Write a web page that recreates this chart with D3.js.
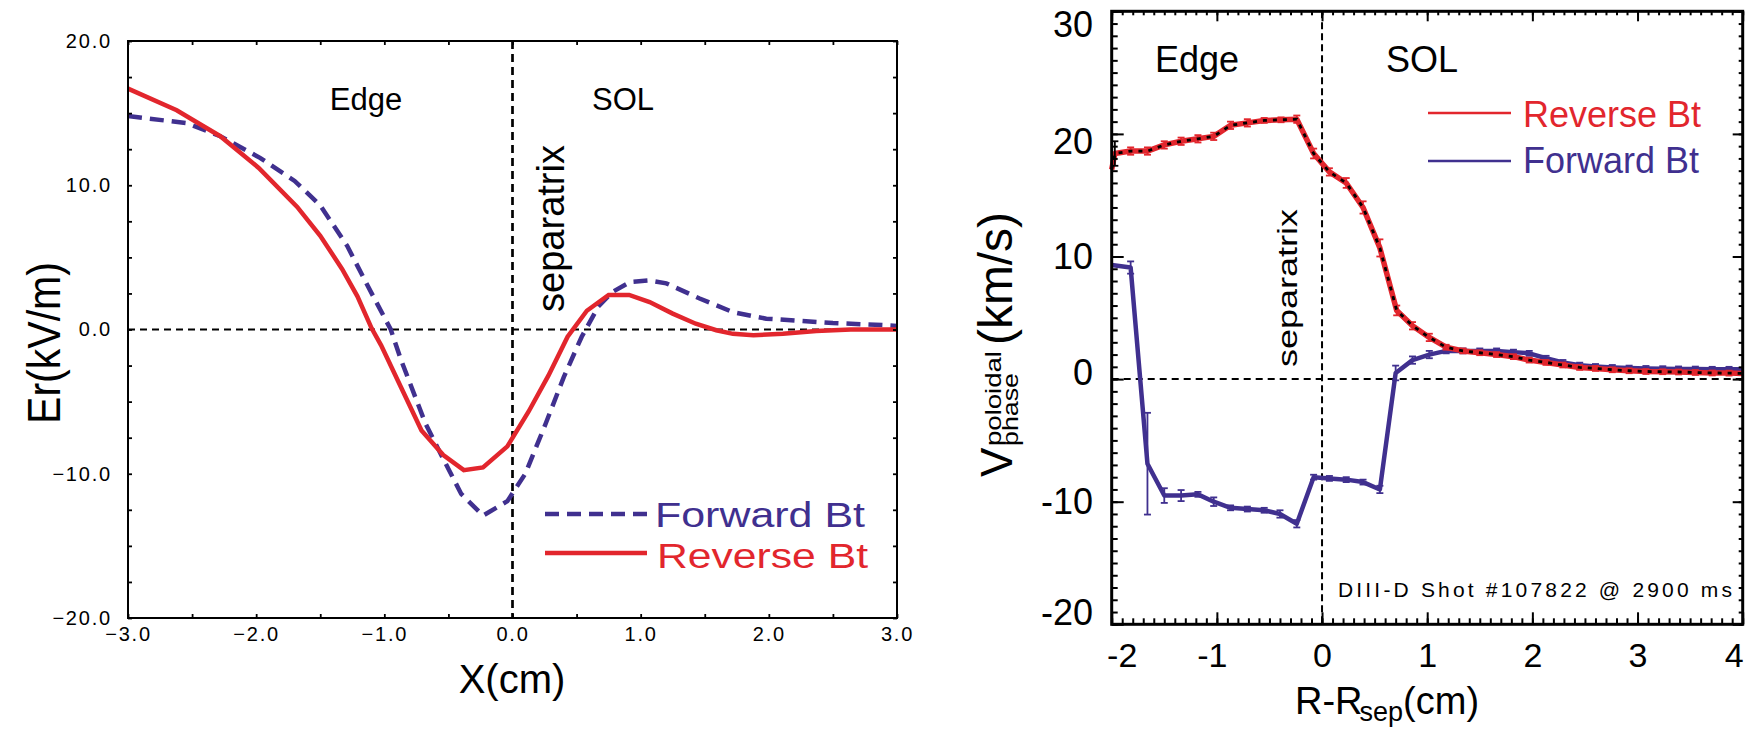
<!DOCTYPE html>
<html>
<head>
<meta charset="utf-8">
<script src="https://cdn.jsdelivr.net/npm/d3@7"></script>
<style>
body { margin:0; background:#fff; }
svg text { font-family: "Liberation Sans", Arial, sans-serif; fill:#000; }
</style>
</head>
<body>
<div id="chart"></div>
<script>

// ---- left panel : Er profile ----
var erFwdX = [-3.0,-2.54,-2.28,-1.97,-1.70,-1.50,-1.29,-1.14,-0.95,-0.87,-0.68,-0.55,-0.40,-0.23,-0.04,0.10,0.26,0.40,0.54,0.67,0.78,0.92,1.07,1.20,1.46,1.72,1.98,2.24,2.50,2.90,3.0];
var erFwd  = [14.8,14.3,13.4,11.9,10.3,8.6,5.8,3.2,0.0,-2.1,-6.5,-8.8,-11.4,-12.9,-11.9,-10.0,-6.5,-3.3,-0.5,1.6,2.6,3.3,3.4,3.2,2.15,1.2,0.75,0.6,0.45,0.3,0.25];
var erRevX = [-3.0,-2.62,-2.47,-2.28,-1.98,-1.68,-1.50,-1.33,-1.21,-1.10,-1.025,-0.87,-0.71,-0.54,-0.38,-0.23,-0.04,0.125,0.28,0.43,0.58,0.75,0.91,1.07,1.25,1.43,1.59,1.72,1.88,2.11,2.37,2.64,3.0];
var erRev  = [16.7,15.2,14.4,13.4,11.2,8.5,6.5,4.2,2.3,0.1,-1.1,-4.0,-7.0,-8.7,-9.75,-9.56,-8.1,-5.7,-3.2,-0.5,1.3,2.4,2.4,1.9,1.1,0.4,-0.05,-0.3,-0.4,-0.3,-0.1,0.0,0.0];
var erXTicks = [-3,-2,-1,0,1,2,3];
var erYTicks = [-20,-10,0,10,20];

// ---- right panel : poloidal phase velocity ----
var vRevX = [-2.0,-1.97,-1.82,-1.66,-1.50,-1.34,-1.18,-1.03,-0.87,-0.71,-0.55,-0.39,-0.24,-0.08,0.07,0.23,0.39,0.55,0.71,0.86,1.02,1.18,1.34,1.50,1.66,1.82,1.97,2.13,2.29,2.45,2.60,2.76,2.92,3.08,3.24,3.39,3.55,3.71,3.87,4.0];
var vRev    = [17.1,18.4,18.6,18.6,19.1,19.4,19.6,19.8,20.7,20.9,21.1,21.15,21.2,18.4,16.9,16.0,14.0,10.7,5.6,4.35,3.4,2.6,2.3,2.15,2.0,1.83,1.55,1.36,1.15,0.95,0.87,0.76,0.68,0.62,0.6,0.58,0.54,0.5,0.49,0.46];
var vRevErr = [0,1.0,0.3,0.3,0.3,0.3,0.3,0.3,0.3,0.3,0.2,0.2,0.3,0.4,0.3,0.4,0.5,0.7,0.4,0.3,0.3,0.2,0.2,0.2,0.2,0.2,0.2,0.2,0.2,0.2,0.2,0.2,0.2,0.2,0.2,0.2,0.2,0.2,0.2,0];
var vFwdX = [-2.0,-1.82,-1.66,-1.50,-1.34,-1.18,-1.03,-0.87,-0.71,-0.55,-0.40,-0.24,-0.08,0.07,0.23,0.39,0.55,0.70,0.86,1.02,1.18,1.34,1.50,1.66,1.82,1.97,2.13,2.29,2.45,2.60,2.76,2.92,3.08,3.24,3.39,3.55,3.71,3.87,4.0];
var vFwd    = [9.3,9.1,-6.9,-9.5,-9.5,-9.4,-10.0,-10.5,-10.6,-10.7,-11.0,-11.8,-8.0,-8.1,-8.2,-8.4,-9.0,0.5,1.55,2.0,2.3,2.3,2.3,2.3,2.2,2.1,1.7,1.36,1.14,1.03,0.95,0.9,0.87,0.85,0.83,0.82,0.8,0.8,0.8];
var vFwdErr = [0,0.5,4.15,0.6,0.45,0.2,0.35,0.2,0.2,0.2,0.3,0.3,0.2,0.2,0.2,0.2,0.3,0.6,0.3,0.3,0.2,0.2,0.2,0.2,0.2,0.2,0.2,0.2,0.2,0.2,0.2,0.2,0.2,0.2,0.2,0.2,0.2,0.2,0];
var vXTicks = [-2,-1,0,1,2,3,4];
var vYTicks = [-20,-10,0,10,20,30];

var red = "#e2262d";
var blue = "#40308f";

var svg = d3.select("#chart").append("svg")
	.attr("width", 1749)
	.attr("height", 731);

// little helper: inward ticks, no domain line
function ticks(g, axisFn, scale, vals, size, pad, fmt, tr) {
	var a = g.append("g")
		.attr("transform", tr)
		.call(axisFn(scale).tickValues(vals).tickSize(size).tickPadding(pad).tickFormat(fmt));
	a.select(".domain").remove();
	return a;
}
function pairs(xs, ys) {
	return xs.map(function(d, i) { return [d, ys[i]]; });
}

// ================= LEFT PANEL =================
var xL = d3.scaleLinear().domain([-3, 3]).range([128, 897]);
var yL = d3.scaleLinear().domain([-20, 20]).range([618, 41]);
var gL = svg.append("g");

// zero line and separatrix
gL.append("line")
	.attr("x1", xL(-3)).attr("x2", xL(3)).attr("y1", yL(0)).attr("y2", yL(0))
	.attr("stroke", "#000").attr("stroke-width", 2).attr("stroke-dasharray", "7,5");
gL.append("line")
	.attr("x1", xL(0)).attr("x2", xL(0)).attr("y1", yL(20)).attr("y2", yL(-20))
	.attr("stroke", "#000").attr("stroke-width", 2.7).attr("stroke-dasharray", "8,5");

var lineL = d3.line().x(function(d) { return xL(d[0]); }).y(function(d) { return yL(d[1]); });
gL.append("path").datum(pairs(erFwdX, erFwd))
	.attr("d", lineL).attr("fill", "none").attr("stroke", blue)
	.attr("stroke-width", 4.5).attr("stroke-dasharray", "14,8");
gL.append("path").datum(pairs(erRevX, erRev))
	.attr("d", lineL).attr("fill", "none").attr("stroke", red)
	.attr("stroke-width", 4.5);

// ticks: every 0.5 on x, every 2.5 on y, all four sides
var fmt1 = d3.format(".1f");
var xl = ticks(gL, d3.axisBottom, xL, d3.range(-3, 3.01, 0.5), -4, 9, function(d) { return d % 1 === 0 ? fmt1(d) : ""; }, "translate(0," + yL(-20) + ")");
ticks(gL, d3.axisTop, xL, d3.range(-3, 3.01, 0.5), -4, 0, "", "translate(0," + yL(20) + ")");
var yl = ticks(gL, d3.axisLeft, yL, d3.range(-20, 20.1, 2.5), -4, 16, function(d) { return d % 10 === 0 ? fmt1(d) : ""; }, "translate(" + xL(-3) + ",0)");
ticks(gL, d3.axisRight, yL, d3.range(-20, 20.1, 2.5), -4, 0, "", "translate(" + xL(3) + ",0)");
gL.selectAll(".tick line").attr("stroke-width", 1.8);
gL.selectAll(".tick text").style("font-size", "20px").style("letter-spacing", "1.8px");

gL.append("rect")
	.attr("x", xL(-3)).attr("y", yL(20))
	.attr("width", xL(3) - xL(-3)).attr("height", yL(-20) - yL(20))
	.attr("fill", "none").attr("stroke", "#000").attr("stroke-width", 2);

gL.append("text").attr("x", 512).attr("y", 693).attr("text-anchor", "middle")
	.style("font-size", "40px").text("X(cm)");
gL.append("text").attr("transform", "translate(60,343) rotate(-90)").attr("text-anchor", "middle")
	.style("font-size", "46px").attr("textLength", 162).attr("lengthAdjust", "spacingAndGlyphs").text("Er(kV/m)");
gL.append("text").attr("x", 366).attr("y", 110).attr("text-anchor", "middle").style("font-size", "31px").text("Edge");
gL.append("text").attr("x", 623).attr("y", 110).attr("text-anchor", "middle").style("font-size", "31px").text("SOL");
gL.append("text").attr("transform", "translate(564,312) rotate(-90)")
	.style("font-size", "38px").attr("textLength", 167).attr("lengthAdjust", "spacingAndGlyphs").text("separatrix");

// legend
gL.append("line").attr("x1", 545).attr("x2", 647).attr("y1", 514).attr("y2", 514)
	.attr("stroke", blue).attr("stroke-width", 4.5).attr("stroke-dasharray", "14,8");
gL.append("text").attr("x", 655).attr("y", 527).style("font-size", "35px").style("fill", blue)
	.attr("textLength", 210).attr("lengthAdjust", "spacingAndGlyphs").text("Forward Bt");
gL.append("line").attr("x1", 545).attr("x2", 647).attr("y1", 553).attr("y2", 553)
	.attr("stroke", red).attr("stroke-width", 4.5);
gL.append("text").attr("x", 657).attr("y", 568).style("font-size", "35px").style("fill", red)
	.attr("textLength", 211).attr("lengthAdjust", "spacingAndGlyphs").text("Reverse Bt");

// ================= RIGHT PANEL =================
var xR = d3.scaleLinear().domain([-2, 4]).range([1111.7, 1742.7]);
var yR = d3.scaleLinear().domain([-20, 30]).range([624.3, 11.3]);
var gR = svg.append("g");

gR.append("line")
	.attr("x1", xR(-2)).attr("x2", xR(4)).attr("y1", yR(0)).attr("y2", yR(0))
	.attr("stroke", "#000").attr("stroke-width", 2).attr("stroke-dasharray", "7,5");
gR.append("line")
	.attr("x1", xR(0)).attr("x2", xR(0)).attr("y1", yR(30)).attr("y2", yR(-20))
	.attr("stroke", "#000").attr("stroke-width", 2).attr("stroke-dasharray", "7,4");

var lineR = d3.line().x(function(d) { return xR(d[0]); }).y(function(d) { return yR(d[1]); });

function errBars(xs, ys, es, col) {
	var pts = xs.map(function(d, i) { return {x: d, y: ys[i], e: es[i], i: i}; })
		.filter(function(d) { return d.e > 0; });
	var eb = gR.append("g").selectAll("g").data(pts).enter().append("g")
		.attr("stroke", function(d) { return (col === red && d.i === 1) ? "#000" : col; })
		.attr("stroke-width", 1.8);
	eb.append("line")
		.attr("x1", function(d) { return xR(d.x); }).attr("x2", function(d) { return xR(d.x); })
		.attr("y1", function(d) { return yR(d.y - d.e); }).attr("y2", function(d) { return yR(d.y + d.e); });
	[-1, 1].forEach(function(s) {
		eb.append("line")
			.attr("x1", function(d) { return xR(d.x) - 3.5; }).attr("x2", function(d) { return xR(d.x) + 3.5; })
			.attr("y1", function(d) { return yR(d.y + s * d.e); }).attr("y2", function(d) { return yR(d.y + s * d.e); });
	});
}

gR.append("path").datum(pairs(vFwdX, vFwd))
	.attr("d", lineR).attr("fill", "none").attr("stroke", blue).attr("stroke-width", 4.5)
	.attr("stroke-linejoin", "round");
errBars(vFwdX, vFwd, vFwdErr, blue);
gR.append("path").datum(pairs(vRevX, vRev))
	.attr("d", lineR).attr("fill", "none").attr("stroke", red).attr("stroke-width", 5.5)
	.attr("stroke-linejoin", "round");
errBars(vRevX, vRev, vRevErr, red);
// black dashes on top of the reverse curve
gR.append("path").datum(pairs(vRevX, vRev))
	.attr("d", lineR).attr("fill", "none").attr("stroke", "#000").attr("stroke-width", 2.8)
	.attr("stroke-dasharray", "4,6");

// ticks: majors every 1 (x) / 10 (y), minors 0.1 / 1
var xMinor = d3.range(-2, 4.001, 0.1).map(function(d) { return Math.round(d * 10) / 10; });
var yMinor = d3.range(-20, 30.1, 1);
ticks(gR, d3.axisBottom, xR, xMinor, -6, 0, "", "translate(0," + yR(-20) + ")");
var xr = ticks(gR, d3.axisBottom, xR, vXTicks, -12, 18.6, function(d) { return String(d); }, "translate(0," + yR(-20) + ")");
ticks(gR, d3.axisTop, xR, xMinor, -4, 0, "", "translate(0," + yR(30) + ")");
ticks(gR, d3.axisTop, xR, vXTicks, -10, 0, "", "translate(0," + yR(30) + ")");
ticks(gR, d3.axisLeft, yR, yMinor, -6, 0, "", "translate(" + xR(-2) + ",0)");
var yr = ticks(gR, d3.axisLeft, yR, vYTicks, -12, 18.7, function(d) { return String(d); }, "translate(" + xR(-2) + ",0)");
ticks(gR, d3.axisRight, yR, yMinor, -4, 0, "", "translate(" + xR(4) + ",0)");
ticks(gR, d3.axisRight, yR, vYTicks, -10, 0, "", "translate(" + xR(4) + ",0)");
gR.selectAll(".tick line").attr("stroke-width", 2);
xr.selectAll(".tick text").style("font-size", "34px");
yr.selectAll(".tick text").style("font-size", "36px");

// label nudges at the corners, as in the figure
var xNudge = {"-2": 10, "-1": -5, "4": -9};
xr.selectAll(".tick text").attr("dx", function(d) { return xNudge[d] || 0; });
var yNudge = {"30": 14, "20": 8, "0": -6, "-20": -11};
yr.selectAll(".tick text").attr("y", function(d) { return yNudge[d] || 0; });

gR.append("rect")
	.attr("x", xR(-2)).attr("y", yR(30))
	.attr("width", xR(4) - xR(-2)).attr("height", yR(-20) - yR(30))
	.attr("fill", "none").attr("stroke", "#000").attr("stroke-width", 3);

// axis titles
var xt = gR.append("text").attr("x", 1295).attr("y", 714).style("font-size", "38px");
xt.append("tspan").text("R-R");
xt.append("tspan").attr("dy", 7).attr("dx", -3).style("font-size", "27px").text("sep");
xt.append("tspan").attr("dy", -7).text("(cm)");

var vt = gR.append("g").attr("transform", "translate(1012,477) rotate(-90)");
vt.append("text").attr("x", 0).attr("y", 0).style("font-size", "44px").text("V");
vt.append("text").attr("x", 31).attr("y", -11).style("font-size", "22px")
	.attr("textLength", 95).attr("lengthAdjust", "spacingAndGlyphs").text("poloidal");
vt.append("text").attr("x", 31).attr("y", 6).style("font-size", "22px")
	.attr("textLength", 73).attr("lengthAdjust", "spacingAndGlyphs").text("phase");
vt.append("text").attr("x", 132).attr("y", 0).style("font-size", "48px")
	.attr("textLength", 133).attr("lengthAdjust", "spacingAndGlyphs").text("(km/s)");

gR.append("text").attr("x", 1155).attr("y", 72).style("font-size", "36px").text("Edge");
gR.append("text").attr("x", 1386).attr("y", 72).style("font-size", "36px").text("SOL");
gR.append("text").attr("transform", "translate(1297,367) rotate(-90)")
	.style("font-size", "27px").attr("textLength", 158).attr("lengthAdjust", "spacingAndGlyphs").text("separatrix");

gR.append("text").attr("x", 1338).attr("y", 597).style("font-size", "21px")
	.attr("textLength", 394).attr("lengthAdjust", "spacing").text("DIII-D Shot #107822 @ 2900 ms");

// legend
gR.append("line").attr("x1", 1428).attr("x2", 1511).attr("y1", 113).attr("y2", 113)
	.attr("stroke", red).attr("stroke-width", 2.5);
gR.append("text").attr("x", 1523).attr("y", 127).style("font-size", "36px").style("fill", red).text("Reverse Bt");
gR.append("line").attr("x1", 1428).attr("x2", 1511).attr("y1", 161).attr("y2", 161)
	.attr("stroke", blue).attr("stroke-width", 2.5);
gR.append("text").attr("x", 1523).attr("y", 173).style("font-size", "36px").style("fill", blue).text("Forward Bt");

</script>
</body>
</html>
